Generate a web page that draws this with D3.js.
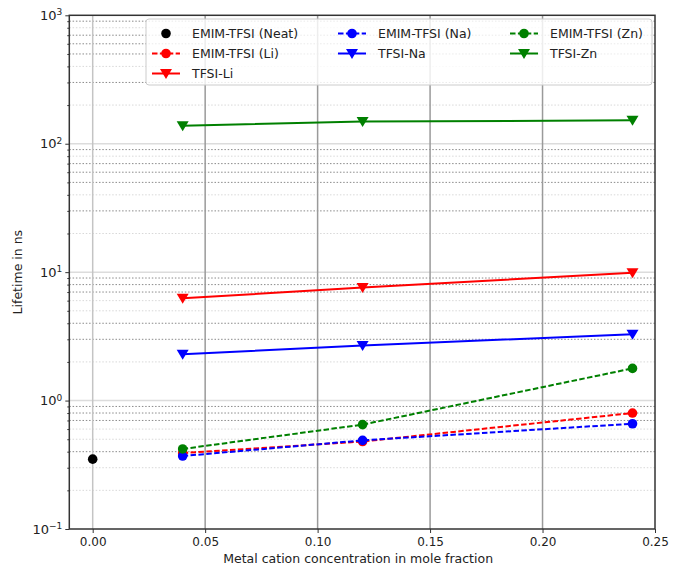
<!DOCTYPE html>
<html><head><meta charset="utf-8">
<script src="https://cdn.jsdelivr.net/npm/d3@7"></script>
<style>body{margin:0;background:#fff}svg{display:block}text{font-family:"DejaVu Sans",sans-serif}</style>
</head><body><svg id="c" width="676" height="571"></svg>
<script>
const xTicks = [0.00, 0.05, 0.10, 0.15, 0.20, 0.25];
const xTickLabels = ["0.00", "0.05", "0.10", "0.15", "0.20", "0.25"];
const yTicks = [0.1, 1, 10, 100, 1000];
const yTickExps = ["−1", "0", "1", "2", "3"];
const strongMinorSteps = {"0.1": [4, 7, 8, 9], "1": [3, 4, 7, 8, 9], "10": [3, 5, 6, 7, 9], "100": [3, 5, 6, 7, 9]};
const neatX = [0.0];
const neatY = [0.35];
const concX = [0.04, 0.12, 0.24];
const emimLi = [0.39, 0.48, 0.80];
const emimNa = [0.37, 0.49, 0.66];
const emimZn = [0.42, 0.65, 1.78];
const tfsiLi = [6.25, 7.6, 9.9];
const tfsiNa = [2.29, 2.69, 3.28];
const tfsiZn = [138, 149, 152];

const series = [
  {name: "EMIM-TFSI (Neat)", x: neatX, y: neatY, color: "#000000", dash: null, marker: "circle", line: false},
  {name: "EMIM-TFSI (Li)", x: concX, y: emimLi, color: "#ff0000", dash: "5.5,2.4", marker: "circle", line: true},
  {name: "TFSI-Li", x: concX, y: tfsiLi, color: "#ff0000", dash: null, marker: "tri", line: true},
  {name: "EMIM-TFSI (Na)", x: concX, y: emimNa, color: "#0000ff", dash: "5.5,2.4", marker: "circle", line: true},
  {name: "TFSI-Na", x: concX, y: tfsiNa, color: "#0000ff", dash: null, marker: "tri", line: true},
  {name: "EMIM-TFSI (Zn)", x: concX, y: emimZn, color: "#008000", dash: "5.5,2.4", marker: "circle", line: true},
  {name: "TFSI-Zn", x: concX, y: tfsiZn, color: "#008000", dash: null, marker: "tri", line: true}
];

const L = 69.3, R = 655, T = 15.3, B = 529;
const x = d3.scaleLinear().domain([-0.0104, 0.25]).range([L, R]);
const y = d3.scaleLog().domain([0.1, 1000]).range([B, T]);
const svg = d3.select("#c");

// minor dotted horizontal grid
const minors = [];
[0.1, 1, 10, 100].forEach(d => { for (let k = 2; k <= 9; k++) minors.push({v: d * k, strong: strongMinorSteps[String(d)].includes(k)}); });
svg.append("g").selectAll("line").data(minors).join("line")
  .attr("x1", L).attr("x2", R).attr("y1", d => y(d.v)).attr("y2", d => y(d.v))
  .attr("stroke", d => d.strong ? "#8a8a8a" : "#d8d8d8").attr("stroke-width", 1).attr("stroke-dasharray", "1.5,1.8");
// major horizontal grid
svg.append("g").selectAll("line").data(yTicks.slice(1, 4)).join("line")
  .attr("x1", L).attr("x2", R).attr("y1", d => y(d)).attr("y2", d => y(d))
  .attr("stroke", "#dcdcdc").attr("stroke-width", 1.5);
// vertical grid
svg.append("g").selectAll("line").data(xTicks.slice(0, 5)).join("line")
  .attr("x1", d => x(d)).attr("x2", d => x(d)).attr("y1", T).attr("y2", B)
  .attr("stroke", (d, i) => i === 0 ? "#c4c4c4" : "#9a9a9a").attr("stroke-width", 1.5);

// axes
const xAxis = d3.axisBottom(x).tickValues(xTicks).tickFormat((d, i) => xTickLabels[i]).tickSize(4).tickPadding(4);
const gx = svg.append("g").attr("transform", `translate(0,${B})`).call(xAxis);
gx.select(".domain").remove();
gx.selectAll("line").attr("stroke", "#333");
gx.selectAll("text").attr("font-size", 12).attr("fill", "#222");

const yAxis = d3.axisLeft(y).tickValues(yTicks).tickFormat(() => "").tickSize(4);
const gy = svg.append("g").attr("transform", `translate(${L},0)`).call(yAxis);
gy.select(".domain").remove();
gy.selectAll("line").attr("stroke", "#333");
gy.selectAll(".tick").each(function(d, i) {
  const t = d3.select(this).select("text").attr("x", -7).attr("dy", "0.32em").attr("font-size", 13).attr("fill", "#222");
  t.text("");
  t.append("tspan").text("10");
  t.append("tspan").attr("dy", "-0.5em").attr("font-size", 9).text(yTickExps[i]);
});
const gym = d3.axisLeft(y).tickValues(minors.map(m => m.v)).tickFormat(() => "").tickSize(2);
const gy2 = svg.append("g").attr("transform", `translate(${L},0)`).call(gym);
gy2.select(".domain").remove();
gy2.selectAll("line").attr("stroke", "#333");

// data
const line = d3.line().x(d => x(d[0])).y(d => y(d[1]));
const triPath = "M-6,-4.5L6,-4.5L0,5.5Z";
const plot = svg.append("g");
series.forEach(s => {
  const pts = s.x.map((v, i) => [v, s.y[i]]);
  if (s.line) {
    plot.append("path").attr("d", line(pts)).attr("fill", "none").attr("stroke", s.color)
      .attr("stroke-width", 2).attr("stroke-dasharray", s.dash);
  }
  pts.forEach(p => {
    if (s.marker === "circle") {
      plot.append("circle").attr("cx", x(p[0])).attr("cy", y(p[1])).attr("r", 4.8).attr("fill", s.color);
    } else {
      plot.append("path").attr("d", triPath).attr("transform", `translate(${x(p[0])},${y(p[1])})`).attr("fill", s.color);
    }
  });
});

// spines
svg.append("rect").attr("x", L).attr("y", T).attr("width", R - L).attr("height", B - T)
  .attr("fill", "none").attr("stroke", "#333").attr("stroke-width", 1.5);

// legend
const lg = svg.append("g");
lg.append("rect").attr("x", 146).attr("y", 19).attr("width", 506).attr("height", 66).attr("rx", 3)
  .attr("fill", "rgba(255,255,255,0.82)").attr("stroke", "#cccccc").attr("stroke-width", 1);
const cols = [[152, 192], [338, 378], [510, 550]];
const rows = [33.5, 53.5, 73.5];
const layout = [[0, 0], [0, 1], [0, 2], [1, 0], [1, 1], [2, 0], [2, 1]];
series.forEach((s, i) => {
  const [c, r] = layout[i];
  const x0 = cols[c][0], yy = rows[r];
  if (s.line) {
    lg.append("line").attr("x1", x0).attr("x2", x0 + 28).attr("y1", yy).attr("y2", yy)
      .attr("stroke", s.color).attr("stroke-width", 2).attr("stroke-dasharray", s.dash);
  }
  if (s.marker === "circle") lg.append("circle").attr("cx", x0 + 14).attr("cy", yy).attr("r", 4.8).attr("fill", s.color);
  else lg.append("path").attr("d", triPath).attr("transform", `translate(${x0 + 14},${yy})`).attr("fill", s.color);
  lg.append("text").attr("x", cols[c][1]).attr("y", yy).attr("dy", "0.35em").attr("font-size", 12.5).attr("fill", "#222").text(s.name);
});

// axis labels
svg.append("text").attr("x", (L + R) / 2 - 4).attr("y", 563).attr("text-anchor", "middle").attr("font-size", 12.5).attr("fill", "#222")
  .text("Metal cation concentration in mole fraction");
svg.append("text").attr("transform", `translate(22,${(T + B) / 2}) rotate(-90)`).attr("text-anchor", "middle").attr("font-size", 12.5).attr("fill", "#222")
  .text("Lifetime in ns");
</script></body></html>
